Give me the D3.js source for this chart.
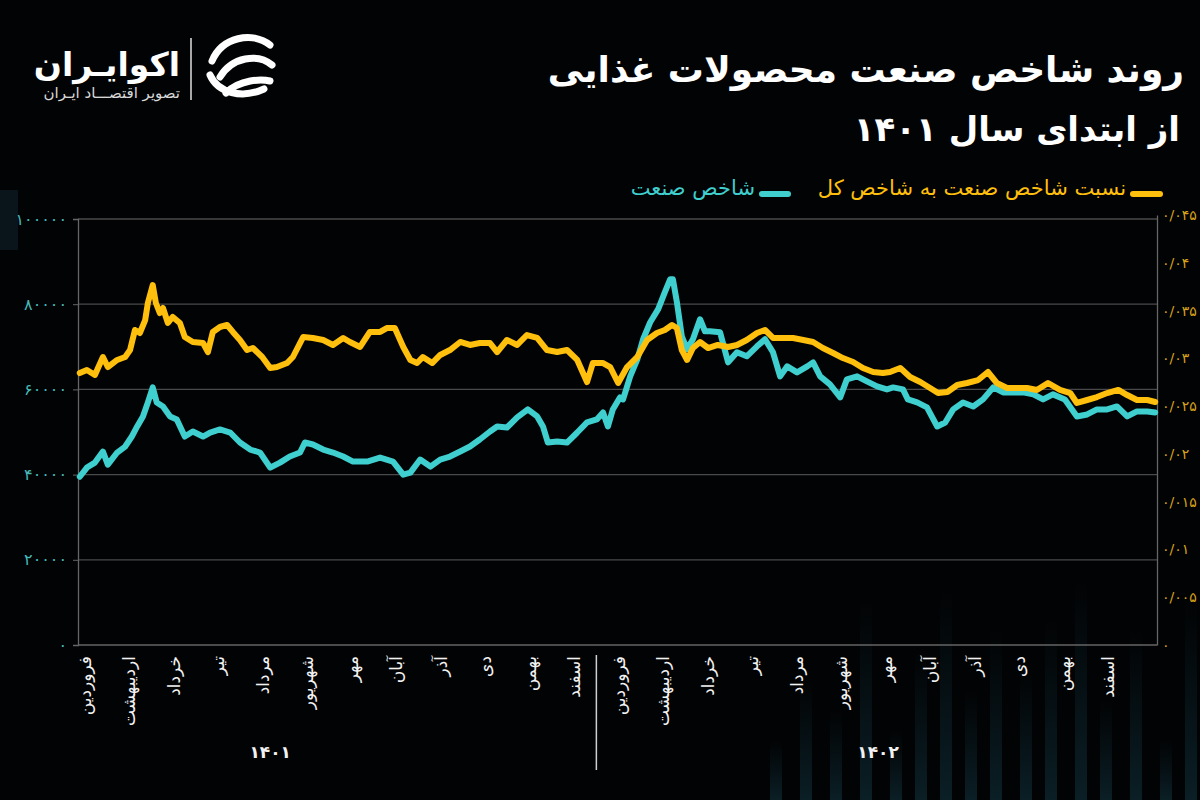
<!DOCTYPE html>
<html><head><meta charset="utf-8">
<script src="https://cdn.jsdelivr.net/npm/d3@7/dist/d3.min.js"></script>
<style>
html,body{margin:0;padding:0;background:#020304;}
svg{display:block;font-family:"DejaVu Sans",sans-serif;}
</style></head>
<body>
<svg id="c" width="1200" height="800"></svg>
<script>
// ---------- DATA ----------
const title1 = "روند شاخص صنعت محصولات غذایی";
const title2 = "از ابتدای سال ۱۴۰۱";
const legendRatio = "نسبت شاخص صنعت به شاخص کل";
const legendIndex = "شاخص صنعت";
const months = ["فروردین","اردیبهشت","خرداد","تیر","مرداد","شهریور","مهر","آبان","آذر","دی","بهمن","اسفند"];
const years = ["۱۴۰۱","۱۴۰۲"];
const leftTicks = [0,20000,40000,60000,80000,100000];
const rightTicks = [0,0.005,0.01,0.015,0.02,0.025,0.03,0.035,0.04,0.045];
// [month position from start of 1401, industry index]
const indexSeries = [[-0.11,39500],[0.05,41650],[0.23,42820],[0.41,45410],[0.52,42350],[0.73,45180],[0.91,46590],[1.06,48940],[1.18,51300],[1.31,53650],[1.42,56940],[1.53,60470],[1.62,56940],[1.76,56000],[1.92,53650],[2.07,52940],[2.25,48940],[2.43,50120],[2.66,48940],[2.82,49880],[3.04,50590],[3.27,49880],[3.49,47530],[3.72,45880],[3.94,45180],[4.17,41650],[4.39,42820],[4.61,44240],[4.84,45180],[4.95,47530],[5.13,47060],[5.36,45880],[5.58,45180],[5.81,44240],[6.03,43060],[6.35,43060],[6.64,44000],[6.93,43060],[7.16,40000],[7.32,40470],[7.54,43530],[7.77,41880],[7.99,43530],[8.21,44240],[8.44,45410],[8.66,46590],[8.88,48240],[9.11,50120],[9.27,51300],[9.49,51060],[9.72,53410],[9.96,55300],[10.17,53650],[10.30,51300],[10.41,47530],[10.62,47770],[10.84,47530],[11.07,49880],[11.29,52240],[11.51,52940],[11.65,54590],[11.76,51300],[11.87,55300],[12.03,58120],[12.10,57650],[12.26,63060],[12.42,67060],[12.55,71770],[12.71,75770],[12.89,78830],[13.04,82830],[13.16,85880],[13.22,85880],[13.31,80470],[13.42,72470],[13.54,69410],[13.67,71770],[13.83,76470],[13.94,73650],[14.05,73650],[14.28,73410],[14.46,66350],[14.66,68710],[14.88,67770],[15.11,70120],[15.29,71770],[15.47,68710],[15.63,63060],[15.79,65410],[16.01,64000],[16.24,65410],[16.37,66350],[16.53,63060],[16.75,61180],[16.98,58120],[17.13,62350],[17.36,63060],[17.58,61880],[17.81,60710],[18.03,60000],[18.17,60470],[18.39,60000],[18.50,57650],[18.71,56940],[18.93,55770],[19.16,51300],[19.34,52240],[19.52,55300],[19.74,56940],[19.97,56000],[20.19,57650],[20.42,60470],[20.64,59300],[20.87,59300],[21.09,59300],[21.32,58830],[21.54,57650],[21.76,58830],[22.03,57650],[22.30,53650],[22.53,54120],[22.75,55300],[22.98,55300],[23.20,56000],[23.43,53650],[23.65,54830],[23.88,54830],[24.06,54590]];
// [month position, ratio of industry index to total index]
const ratioSeries = [[-0.11,0.02846],[0.05,0.02878],[0.23,0.02826],[0.41,0.03014],[0.52,0.02909],[0.73,0.02983],[0.91,0.03014],[1.02,0.03087],[1.13,0.03297],[1.24,0.03265],[1.36,0.03401],[1.42,0.03579],[1.53,0.03767],[1.60,0.03579],[1.69,0.03474],[1.76,0.03527],[1.87,0.03370],[1.98,0.03433],[2.14,0.03370],[2.25,0.03223],[2.43,0.03171],[2.66,0.03160],[2.77,0.03066],[2.88,0.03276],[3.04,0.03328],[3.20,0.03349],[3.33,0.03276],[3.49,0.03192],[3.65,0.03087],[3.78,0.03108],[3.99,0.03014],[4.17,0.02899],[4.32,0.02909],[4.55,0.02951],[4.68,0.03014],[4.84,0.03160],[4.91,0.03223],[5.13,0.03213],[5.36,0.03192],[5.58,0.03140],[5.81,0.03213],[5.96,0.03171],[6.19,0.03119],[6.41,0.03276],[6.64,0.03276],[6.79,0.03317],[6.97,0.03317],[7.16,0.03119],[7.32,0.02983],[7.47,0.02951],[7.60,0.03014],[7.81,0.02951],[7.99,0.03035],[8.21,0.03087],[8.44,0.03171],[8.66,0.03140],[8.88,0.03160],[9.11,0.03160],[9.27,0.03066],[9.49,0.03192],[9.72,0.03140],[9.94,0.03244],[10.17,0.03213],[10.39,0.03087],[10.62,0.03066],[10.84,0.03087],[11.07,0.02983],[11.29,0.02752],[11.42,0.02951],[11.65,0.02951],[11.81,0.02909],[11.99,0.02742],[12.19,0.02909],[12.42,0.03014],[12.64,0.03192],[12.86,0.03265],[13.04,0.03297],[13.20,0.03349],[13.31,0.03317],[13.42,0.03087],[13.54,0.02983],[13.67,0.03108],[13.83,0.03171],[14.01,0.03108],[14.23,0.03140],[14.46,0.03119],[14.66,0.03140],[14.88,0.03192],[15.11,0.03265],[15.29,0.03297],[15.47,0.03213],[15.70,0.03213],[15.92,0.03213],[16.15,0.03192],[16.37,0.03171],[16.59,0.03108],[16.82,0.03056],[17.04,0.03003],[17.27,0.02962],[17.49,0.02899],[17.72,0.02857],[17.94,0.02846],[18.10,0.02857],[18.33,0.02899],[18.55,0.02805],[18.78,0.02752],[19.00,0.02690],[19.18,0.02637],[19.39,0.02648],[19.61,0.02721],[19.83,0.02742],[20.08,0.02773],[20.30,0.02857],[20.50,0.02742],[20.73,0.02690],[20.96,0.02690],[21.18,0.02690],[21.40,0.02669],[21.65,0.02742],[21.92,0.02669],[22.15,0.02637],[22.30,0.02533],[22.53,0.02564],[22.75,0.02595],[22.98,0.02637],[23.23,0.02669],[23.43,0.02616],[23.65,0.02564],[23.88,0.02564],[24.06,0.02543]];

// ---------- STYLE ----------
const YELLOW = "#ffbf0d", TEAL = "#3fcfcf";
const faDigits = s => String(s).replace(/\d/g, d => "۰۱۲۳۴۵۶۷۸۹"[d]);

const svg = d3.select("#c");
const W = 1200, H = 800;
const plot = {l: 78, r: 1157, t: 219, b: 645};

// background
const defs = svg.append("defs");
const bg = defs.append("linearGradient").attr("id","bar").attr("x1",0).attr("y1",0).attr("x2",0).attr("y2",1);
bg.append("stop").attr("offset","0%").attr("stop-color","#0c2730").attr("stop-opacity",0);
bg.append("stop").attr("offset","100%").attr("stop-color","#0e2a33").attr("stop-opacity",0.9);
svg.append("rect").attr("width",W).attr("height",H).attr("fill","#020304");

// faint decorative columns (background texture)
const decor = [[770,60],[800,120],[830,90],[860,200],[890,70],[915,150],[940,210],[965,110],[990,170],[1020,130],[1045,180],[1075,220],[1100,100],[1130,170],[1160,60],[1185,200]];
svg.append("g").selectAll("rect").data(decor).join("rect")
  .attr("x", d => d[0]).attr("width", 12)
  .attr("y", d => H - d[1]).attr("height", d => d[1])
  .attr("fill","url(#bar)").attr("opacity",0.8);
svg.append("rect").attr("x",0).attr("y",190).attr("width",18).attr("height",60).attr("fill","#0b1a20").attr("opacity",0.8);

// scales
const x = d3.scaleLinear().domain([-0.15, 24.1]).range([plot.l, plot.r]);
const yL = d3.scaleLinear().domain([0, 100000]).range([plot.b, plot.t]);
const yR = d3.scaleLinear().domain([0, 0.045]).range([plot.b, 215]);

// gridlines
svg.append("g").selectAll("line").data(leftTicks.slice(1)).join("line")
  .attr("x1", plot.l).attr("x2", plot.r)
  .attr("y1", d => yL(d)).attr("y2", d => yL(d))
  .attr("stroke","#4a4a4a").attr("stroke-width",1.3);

// left axis
const gL = svg.append("g").attr("transform",`translate(${plot.l},0)`)
  .call(d3.axisLeft(yL).tickValues(leftTicks).tickSize(5).tickPadding(6).tickFormat(d => faDigits(d)));
gL.select(".domain").attr("stroke","#666").attr("stroke-width",1.3);
gL.selectAll(".tick line").attr("stroke","#666");
gL.selectAll(".tick text").attr("fill","#45b9b9").attr("font-size",16).attr("font-family","DejaVu Sans");

// right axis
const gR = svg.append("g").attr("transform",`translate(${plot.r},0)`)
  .call(d3.axisRight(yR).tickValues(rightTicks).tickSize(0).tickPadding(5)
    .tickFormat(d => faDigits(d3.format(".3~f")(d)).replace(".", "/")));
gR.select(".domain").attr("stroke","#666").attr("stroke-width",1.3);
gR.selectAll(".tick text").attr("fill","#d9a21a").attr("font-size",14).attr("font-family","DejaVu Sans");

// bottom axis line
svg.append("line").attr("x1",plot.l).attr("x2",plot.r).attr("y1",plot.b).attr("y2",plot.b)
  .attr("stroke","#666").attr("stroke-width",1.3);

// month labels
const monthSlots = d3.range(24).map(i => ({i, name: months[i % 12]}));
svg.append("g").selectAll("text").data(monthSlots).join("text")
  .attr("transform", d => `translate(${x(d.i)},656) rotate(-90)`)
  .attr("text-anchor","end").attr("dy","0.35em")
  .attr("fill","#f2f2f2").attr("font-size",17)
  .text(d => d.name);

// year separator + year labels
svg.append("line").attr("x1",x(11.5)).attr("x2",x(11.5)).attr("y1",655).attr("y2",770)
  .attr("stroke","#cfcfcf").attr("stroke-width",1.5);
svg.append("g").selectAll("text").data(years).join("text")
  .attr("x", (d,i) => x(i === 0 ? 4.17 : 17.83)).attr("y", 752)
  .attr("text-anchor","middle").attr("dy","0.35em")
  .attr("fill","#f2f2f2").attr("font-size",17).attr("font-weight","bold")
  .text(d => d);

// lines
const lineL = d3.line().x(d => x(d[0])).y(d => yL(d[1]));
const lineR = d3.line().x(d => x(d[0])).y(d => yR(d[1]));
svg.append("path").datum(indexSeries).attr("d", lineL)
  .attr("fill","none").attr("stroke",TEAL).attr("stroke-width",6)
  .attr("stroke-linejoin","round").attr("stroke-linecap","round");
svg.append("path").datum(ratioSeries).attr("d", lineR)
  .attr("fill","none").attr("stroke",YELLOW).attr("stroke-width",6)
  .attr("stroke-linejoin","round").attr("stroke-linecap","round");

// legend
svg.append("line").attr("x1",1133).attr("x2",1160).attr("y1",194).attr("y2",194)
  .attr("stroke",YELLOW).attr("stroke-width",6).attr("stroke-linecap","round");
svg.append("text").attr("x",1126).attr("y",188).attr("dy","0.35em")
  .attr("direction","rtl").attr("text-anchor","start")
  .attr("fill",YELLOW).attr("font-size",21).text(legendRatio);
svg.append("line").attr("x1",762).attr("x2",788).attr("y1",194).attr("y2",194)
  .attr("stroke",TEAL).attr("stroke-width",6).attr("stroke-linecap","round");
svg.append("text").attr("x",755).attr("y",188).attr("dy","0.35em")
  .attr("direction","rtl").attr("text-anchor","start")
  .attr("fill",TEAL).attr("font-size",21).text(legendIndex);

// title
svg.append("text").attr("x",1184).attr("y",82).attr("direction","rtl").attr("text-anchor","start")
  .attr("fill","#ffffff").attr("font-size",36).attr("font-weight","bold").text(title1);
svg.append("text").attr("x",1180).attr("y",141).attr("direction","rtl").attr("text-anchor","start")
  .attr("fill","#ffffff").attr("font-size",34).attr("font-weight","bold").text(title2);

// logo
const logo = svg.append("g");
logo.append("text").attr("x",180).attr("y",76).attr("direction","rtl").attr("text-anchor","start")
  .attr("fill","#ffffff").attr("font-size",33).attr("font-weight","bold").text("اکوایـران");
logo.append("text").attr("x",180).attr("y",98).attr("direction","rtl").attr("text-anchor","start")
  .attr("fill","#d8d8d8").attr("font-size",15).text("تصویر اقتصـــاد ایـران");
logo.append("line").attr("x1",191).attr("x2",191).attr("y1",38).attr("y2",100)
  .attr("stroke","#e0e0e0").attr("stroke-width",1.5);
const ic = logo.append("g").attr("transform","translate(240,67)")
  .attr("fill","none").attr("stroke","#ffffff").attr("stroke-width",7).attr("stroke-linecap","round");
ic.append("path").attr("d","M-28,-6 C-18,-30 12,-36 30,-22");
ic.append("path").attr("d","M-20,10 C-8,-10 18,-14 32,-2");
ic.append("path").attr("d","M-30,8 C-22,26 2,32 24,22");
ic.append("path").attr("d","M-14,26 C0,12 22,12 30,14");
</script>
</body></html>
